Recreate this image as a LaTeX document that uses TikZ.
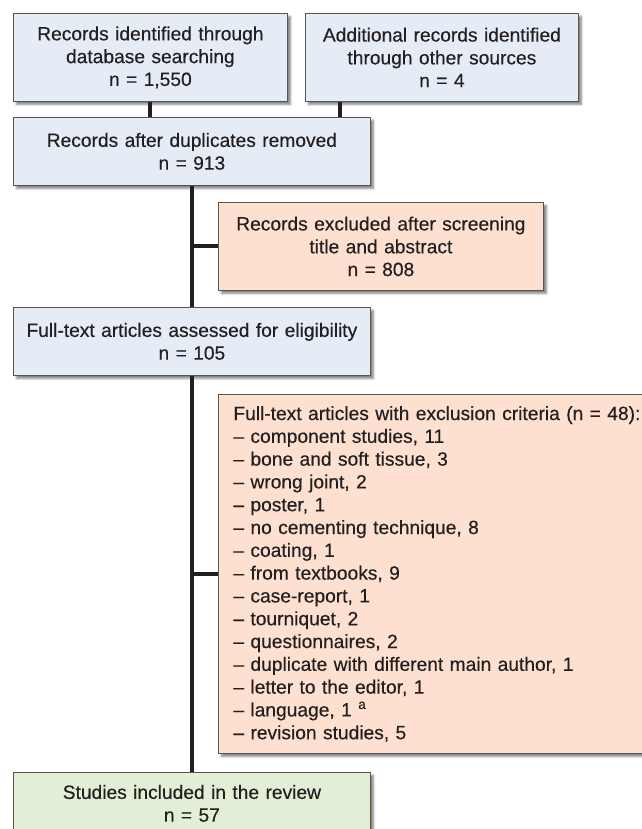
\documentclass[tikz,border=0pt]{standalone}
\usepackage{fontspec}
\setmainfont{Liberation Sans}[FakeBold=0.35]
\usetikzlibrary{shadows.blur}
\definecolor{BoxBlue}{RGB}{229,236,246}
\definecolor{BoxPeach}{RGB}{253,224,207}
\definecolor{BoxGreen}{RGB}{227,238,214}
\definecolor{EdgeClr}{RGB}{85,85,85}
\definecolor{InkClr}{RGB}{35,31,32}

\begin{document}
\begin{tikzpicture}[x=1pt,y=-1pt,
  box/.style={draw=EdgeClr,line width=0.8pt,anchor=north west,inner sep=0pt,align=center,
    text=InkClr,font=\fontsize{19.2}{22.8}\selectfont,
    blur shadow={shadow xshift=3pt,shadow yshift=-3pt,shadow blur steps=6,shadow opacity=50}},
  link/.style={line width=4pt,color=InkClr}]
\useasboundingbox (0,0) rectangle (641,829);

\node[box,fill=BoxBlue,minimum width=274pt,minimum height=88pt,text width=254pt] (dbase) at (13,13)
  {Records identified through\\database searching\\n = 1,550};
\node[box,fill=BoxBlue,minimum width=273pt,minimum height=88pt,text width=253pt] (other) at (305,13)
  {Additional records identified\\through other sources\\n = 4};
\node[box,fill=BoxBlue,minimum width=357pt,minimum height=68pt,text width=337pt] (dupl) at (13,117)
  {Records after duplicates removed\\n = 913};
\node[box,fill=BoxPeach,minimum width=325pt,minimum height=88pt,text width=305pt] (screen) at (218,202)
  {Records excluded after screening\\title and abstract\\n = 808};
\node[box,fill=BoxBlue,minimum width=357pt,minimum height=68pt,text width=345pt] (full) at (13,307)
  {Full-text articles assessed for eligibility\\n = 105};
\node[box,fill=BoxPeach,align=left,minimum width=450pt,minimum height=359pt,text width=420pt] (crit) at (218,394)
  {Full-text articles with exclusion criteria (n = 48):\\
   -- component studies, 11\\
   -- bone and soft tissue, 3\\
   -- wrong joint, 2\\
   -- poster, 1\\
   -- no cementing technique, 8\\
   -- coating, 1\\
   -- from textbooks, 9\\
   -- case-report, 1\\
   -- tourniquet, 2\\
   -- questionnaires, 2\\
   -- duplicate with different main author, 1\\
   -- letter to the editor, 1\\
   -- language, 1 \textsuperscript{a}\\
   -- revision studies, 5};
\node[box,fill=BoxGreen,minimum width=357pt,minimum height=62pt,text width=337pt] (incl) at (13,772)
  {Studies included in the review\\n = 57};

\coordinate (tap) at ([xshift=35pt]other.south west);
\draw[link] (dbase.south) -- (dbase.south |- dupl.north);
\draw[link] (tap) -- (tap |- dupl.north);
\draw[link] (dupl.south) -- (full.north);
\draw[link] (full.south) -- (incl.north);
\draw[link] (screen.west -| dupl.south) -- (screen.west);
\draw[link] (crit.west -| full.south) -- (crit.west);

\end{tikzpicture}
\end{document}
